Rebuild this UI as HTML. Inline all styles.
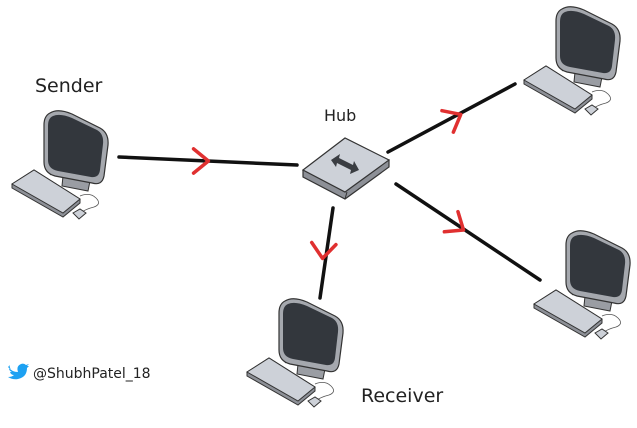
<!DOCTYPE html>
<html><head><meta charset="utf-8"><style>
html,body{margin:0;padding:0;background:#fff;}
svg{display:block}
text{font-family:"Comic Sans MS","DejaVu Sans",sans-serif;fill:#222}
</style></head><body>
<svg width="637" height="428" viewBox="0 0 637 428" xmlns="http://www.w3.org/2000/svg">
<defs>
<g id="pc">
  <path d="M50,175 q8,-6 15,0 q5,4 12,2" fill="none" stroke="#555" stroke-width="0.8"/>
  <path d="M80,196 q10,-4 16,2 q6,6 -2,9 q-8,2 -14,6" fill="none" stroke="#555" stroke-width="0.8"/>
  <path d="M63,176 L90,181 L88,191 L62,186 Z" fill="#9a9da3" stroke="#333" stroke-width="1"/>
  <path d="M50,113 Q58,108 72,114 L100,128 Q109,133 108,145 L104,176 Q102,186 92,183 L55,176 Q44,173 44,162 L44,125 Q44,116 50,113 Z" fill="#a5a8ae" stroke="#333" stroke-width="1.2"/>
  <path d="M53,116 Q60,113 72,118 L97,130 Q104,134 103,144 L100,170 Q99,178 91,177 L58,171 Q48,169 48,160 L48,126 Q48,118 53,116 Z" fill="#33373d"/>
  <path d="M12,184 L34,170 L80,199 L80,203 L63,217 L12,188 Z" fill="#8d9097" stroke="#333" stroke-width="1"/>
  <path d="M12,184 L34,170 L80,199 L63,213 Z" fill="#cdd1d8" stroke="#333" stroke-width="1"/>
  <path d="M73,213 L80,209 L86,213 L79,219 Z" fill="#cdd1d8" stroke="#333" stroke-width="1"/>
</g>
<path id="chev" d="M-7,-9 L4,0 L-7,9" fill="none" stroke="#e03030" stroke-width="2.6" stroke-linecap="round" stroke-linejoin="round"/>
</defs>

<g stroke="#111" stroke-width="3.5" stroke-linecap="round" fill="none">
  <line x1="119" y1="157" x2="297" y2="165"/>
  <line x1="388" y1="152" x2="515" y2="84"/>
  <line x1="396" y1="184" x2="540" y2="280"/>
  <line x1="333" y1="208" x2="320" y2="298"/>
</g>
<use href="#chev" transform="translate(203,161) scale(1.35)"/>
<use href="#chev" transform="translate(456,117) rotate(-28) scale(1.35)"/>
<use href="#chev" transform="translate(459,227) rotate(34) scale(1.35)"/>
<use href="#chev" transform="translate(323,253) rotate(95) scale(1.35)"/>

<use href="#pc"/>
<use href="#pc" transform="translate(512,-104)"/>
<use href="#pc" transform="translate(522,120)"/>
<use href="#pc" transform="translate(235,188)"/>

<path d="M303,170 L303,177 L345,199 L389,167 L389,160 Z" fill="#8d9097" stroke="#333" stroke-width="1.2"/>
<path d="M303,170 L345,138 L389,160 L345,192 Z" fill="#cdd1d8" stroke="#333" stroke-width="1.2"/>
<path d="M347,192 L345,199" stroke="#333" stroke-width="1"/>
<path d="M331,160 L340,154 L339,158 L353,165 L354,161 L359,170 L350,174 L351,170 L337,163 L336,167 Z" fill="#3a3d42"/>

<text x="35" y="92" font-size="19">Sender</text>
<text x="324" y="121" font-size="16">Hub</text>
<text x="361" y="402" font-size="19">Receiver</text>
<text x="33" y="378" font-size="14">@ShubhPatel_18</text>
<path d="M8,367 q4,5 10,5 q-2,-6 3,-8 q3,-1 5,1 l3,-1 l-2,2 l2,0 l-2,2 q0,9 -9,11 q-5,1 -10,-2 q4,0 6,-2 q-3,0 -4,-3 l2,0 q-3,-1 -3,-4 l2,1 q-2,-2 -1,-4 Z" fill="#1da1f2"/>
</svg>
</body></html>
